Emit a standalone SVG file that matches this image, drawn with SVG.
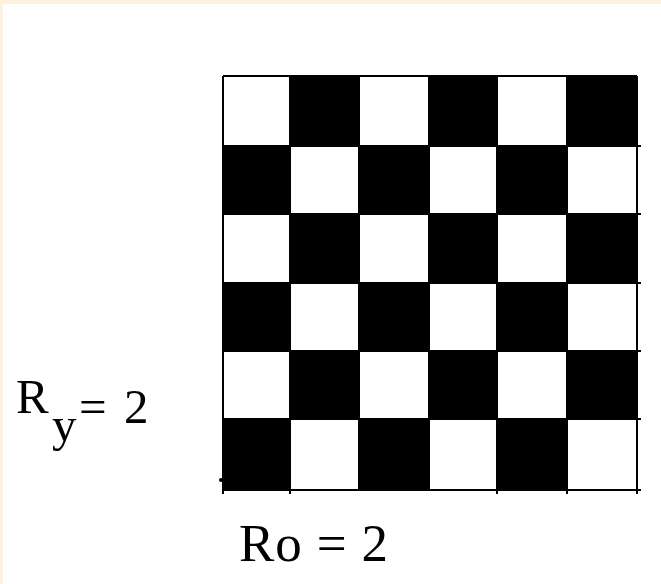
<svg xmlns="http://www.w3.org/2000/svg" width="661" height="584" viewBox="0 0 661 584">
<style>
.blk{fill:#000}
.ln{stroke:#000;stroke-width:2;fill:none}
.lbl{font-family:"Liberation Serif","Times New Roman",serif;fill:#000}
</style>
<rect x="0" y="0" width="661" height="584" fill="#fff"/>
<rect x="0" y="0" width="661" height="4" fill="#fdf2dc"/>
<rect x="0" y="0" width="3" height="584" fill="#fdf2dc"/>
<g id="board">
<rect class="blk" x="290" y="76" width="69" height="70"/>
<rect class="blk" x="429" y="76" width="68" height="70"/>
<rect class="blk" x="567" y="76" width="70" height="70"/>
<rect class="blk" x="223" y="146" width="67" height="68"/>
<rect class="blk" x="359" y="146" width="70" height="68"/>
<rect class="blk" x="497" y="146" width="70" height="68"/>
<rect class="blk" x="290" y="214" width="69" height="69"/>
<rect class="blk" x="429" y="214" width="68" height="69"/>
<rect class="blk" x="567" y="214" width="70" height="69"/>
<rect class="blk" x="223" y="283" width="67" height="68"/>
<rect class="blk" x="359" y="283" width="70" height="68"/>
<rect class="blk" x="497" y="283" width="70" height="68"/>
<rect class="blk" x="290" y="351" width="69" height="68"/>
<rect class="blk" x="429" y="351" width="68" height="68"/>
<rect class="blk" x="567" y="351" width="70" height="68"/>
<rect class="blk" x="223" y="419" width="67" height="71"/>
<rect class="blk" x="359" y="419" width="70" height="71"/>
<rect class="blk" x="497" y="419" width="70" height="71"/>
<path class="ln" d="M223 76H637M223 146H641M223 214H641M223 283H641M223 351H641M223 419H641M223 490H641M223 76V494M290 76V494M359 76V490M429 76V490M497 76V494M567 76V494M637 76V494"/>
<circle cx="221" cy="480" r="2" fill="#000"/>
</g>
<g id="label-ry">
<text class="lbl" font-size="49"><tspan x="16" y="413">R</tspan><tspan x="52" y="441">y</tspan><tspan x="79" y="423">=</tspan><tspan x="124" y="423">2</tspan></text>
</g>
<g id="label-ro">
<text class="lbl" x="239" y="561" font-size="53" textLength="149" lengthAdjust="spacing">Ro = 2</text>
</g>
</svg>
